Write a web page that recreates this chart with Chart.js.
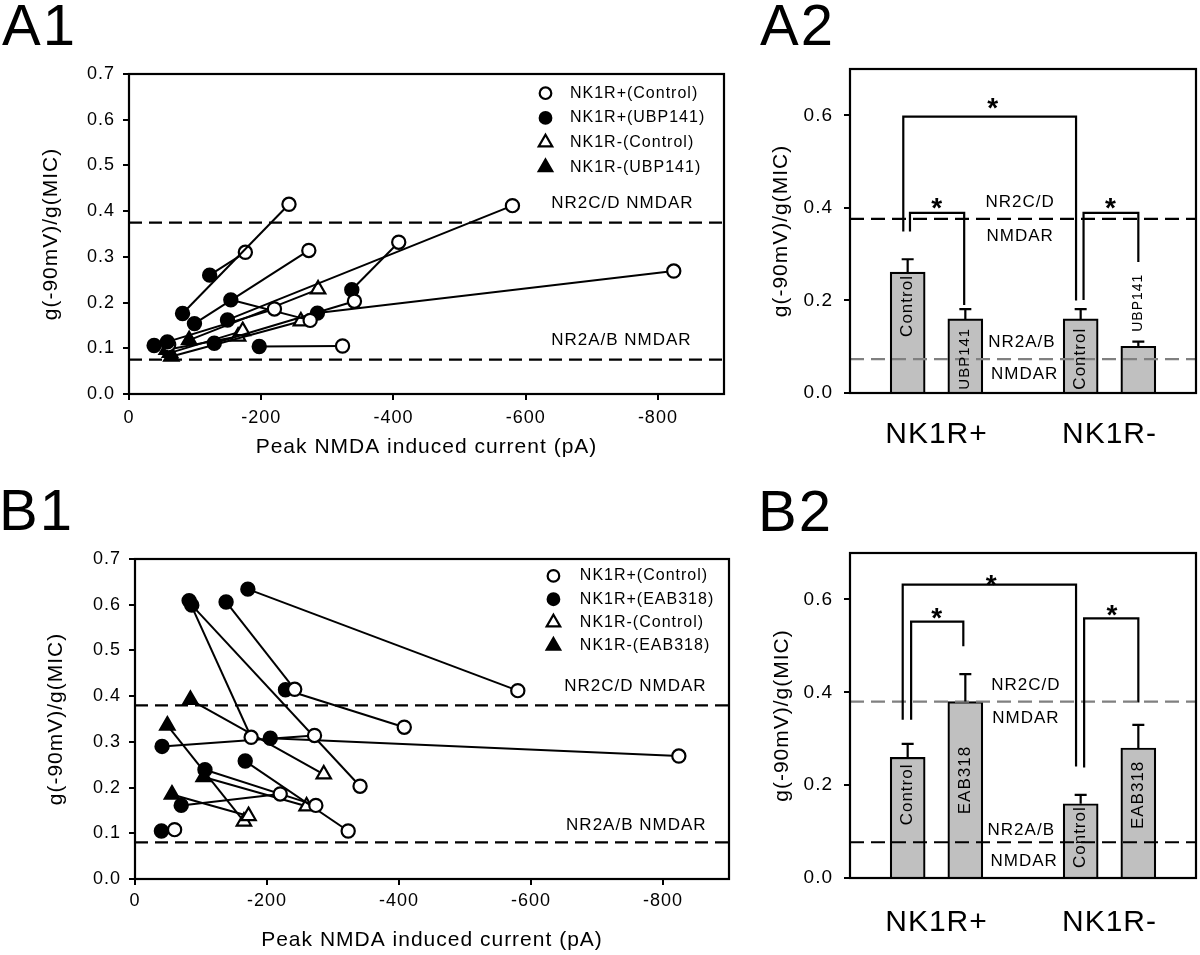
<!DOCTYPE html>
<html>
<head>
<meta charset="utf-8">
<title>NMDA ratio figure</title>
<script src="https://cdn.jsdelivr.net/npm/chart.js@4.4.1/dist/chart.umd.min.js"></script>
<style>
html,body{margin:0;padding:0;background:#fff;}
body{width:1200px;height:955px;position:relative;overflow:hidden;font-family:'Liberation Sans',Arial,sans-serif;}
canvas{position:absolute;}
.pl{position:absolute;font-size:58px;line-height:58px;color:#000;letter-spacing:2px;}
</style>
</head>
<body>
<canvas id="cA1" width="740" height="480" style="left:0;top:0"></canvas>
<canvas id="cA2" width="460" height="480" style="left:740px;top:0"></canvas>
<canvas id="cB1" width="740" height="475" style="left:0;top:480px"></canvas>
<canvas id="cB2" width="460" height="475" style="left:740px;top:480px"></canvas>
<div class="pl" style="left:2px;top:-4px">A1</div>
<div class="pl" style="left:760px;top:-4px">A2</div>
<div class="pl" style="left:-1px;top:481px">B1</div>
<div class="pl" style="left:758px;top:482px">B2</div>
<script>
// ---------------- DATA ----------------
// Peak NMDA induced current (pA) and g(-90mV)/g(MIC) per cell (control cells shared by A1/B1)
const ctrlPlusCurrent  = [-242, -176, -272, -220, -274, -341, -323, -408, -580, -824, -60];
const ctrlPlusRatio    = [0.415, 0.310, 0.314, 0.186, 0.161, 0.203, 0.105, 0.332, 0.412, 0.269, 0.108];
const ctrlMinusCurrent = [-286, -260, -172, -165];
const ctrlMinusRatio   = [0.229, 0.159, 0.138, 0.126];
// A1: UBP141
const ubpPlusCurrent  = [-81, -122, -99, -58, -154, -129, -197, -337, -149, -285, -38];
const ubpPlusRatio    = [0.176, 0.260, 0.154, 0.114, 0.206, 0.111, 0.104, 0.228, 0.162, 0.177, 0.106];
const ubpMinusCurrent = [-91, -64, -62, -57];
const ubpMinusRatio   = [0.118, 0.082, 0.090, 0.097];
// B1: EAB318
const eabPlusCurrent  = [-138, -82, -41, -70, -106, -86, -167, -228, -171, -205, -40];
const eabPlusRatio    = [0.606, 0.609, 0.290, 0.161, 0.239, 0.599, 0.258, 0.414, 0.634, 0.308, 0.105];
const eabMinusCurrent = [-84, -104, -56, -49];
const eabMinusRatio   = [0.392, 0.223, 0.185, 0.336];
// NMDAR reference levels [NR2C/D, NR2A/B]
const levelsA1 = [0.375, 0.075];
const levelsB1 = [0.38, 0.08];
const levelsA2 = [0.376, 0.073];
const levelsB2 = [0.38, 0.077];
// tick labels
const currentTicks = [0, -200, -400, -600, -800];
const ratioTicks   = [0, 0.1, 0.2, 0.3, 0.4, 0.5, 0.6, 0.7];
const barRatioTicks = [0, 0.2, 0.4, 0.6];
// bar panels
const barGroups = ['NK1R+', 'NK1R-'];
const condA2  = ['Control', 'UBP141', 'Control', 'UBP141'];
const meanA2  = [0.261, 0.160, 0.160, 0.101];
const semA2   = [0.028, 0.021, 0.021, 0.010];
const condB2  = ['Control', 'EAB318', 'Control', 'EAB318'];
const meanB2  = [0.260, 0.380, 0.160, 0.280];
const semB2   = [0.029, 0.059, 0.019, 0.050];

// ---------------- RENDERING ----------------
const FONT = "'Liberation Sans', Arial, sans-serif";
Chart.defaults.font.family = FONT;
Chart.defaults.color = '#000';
Chart.defaults.animation = false;
Chart.defaults.events = [];

function marker(ctx, style, fill, x, y, r) {
  ctx.beginPath();
  if (style === 'circle') ctx.arc(x, y, r, 0, Math.PI * 2);
  else { ctx.moveTo(x, y - r); ctx.lineTo(x + r * 0.866, y + r * 0.5); ctx.lineTo(x - r * 0.866, y + r * 0.5); ctx.closePath(); }
  ctx.fillStyle = fill; ctx.fill();
  ctx.lineWidth = 2.2; ctx.strokeStyle = '#000'; ctx.stroke();
}

const annotPlugin = {
  id: 'annot',
  beforeDraw(chart, args, o) { chart.ctx.letterSpacing = o.spacing || '0px'; },
  afterDatasetsDraw(chart, args, o) {
    const ctx = chart.ctx, xs = chart.scales.x, ys = chart.scales.y, a = chart.chartArea;
    const X = v => xs.getPixelForValue(v), Y = v => ys.getPixelForValue(v);
    ctx.save();
    ctx.strokeStyle = '#000'; ctx.fillStyle = '#000';
    if (o.errors) {
      const meta = chart.getDatasetMeta(0);
      ctx.lineWidth = 2.2;
      meta.data.forEach((bar, i) => {
        const y0 = Y(o.errors.means[i]), y1 = Y(o.errors.means[i] + o.errors.errs[i]);
        ctx.beginPath(); ctx.moveTo(bar.x, y0); ctx.lineTo(bar.x, y1);
        ctx.moveTo(bar.x - 6, y1); ctx.lineTo(bar.x + 6, y1); ctx.stroke();
      });
    }
    if (o.barLabels) {
      const meta = chart.getDatasetMeta(0);
      o.barLabels.text.forEach((t, i) => {
        ctx.save();
        ctx.translate(meta.data[i].x, Y(o.barLabels.y[i]));
        ctx.rotate(-Math.PI / 2);
        ctx.font = o.barLabels.size[i] + 'px ' + FONT;
        ctx.textAlign = 'center'; ctx.textBaseline = 'middle'; ctx.fillStyle = '#000';
        ctx.fillText(t, 0, 0);
        ctx.restore();
      });
    }
    (o.texts || []).forEach(t => {
      ctx.font = t.size + 'px ' + FONT; ctx.textAlign = t.align || 'center'; ctx.textBaseline = 'middle';
      ctx.fillStyle = '#000';
      ctx.fillText(t.text, X(t.x), Y(t.y));
    });
    (o.stars || []).forEach(s => {
      ctx.font = 'bold 28px ' + FONT; ctx.textAlign = 'center'; ctx.textBaseline = 'alphabetic';
      ctx.fillStyle = '#000';
      ctx.fillText('*', X(s.x), Y(s.y) + 16);
    });
    if (o.legend) {
      const L = o.legend;
      L.items.forEach((it, i) => {
        const y = Y(L.y[i]);
        marker(ctx, it.style, it.fill, X(L.markerX), y, it.style === 'circle' ? 5.8 : 7.8);
        ctx.font = L.size + 'px ' + FONT; ctx.textAlign = 'left'; ctx.textBaseline = 'middle'; ctx.fillStyle = '#000';
        ctx.fillText(it.label, X(L.textX), y);
      });
    }
    if (o.box) { ctx.lineWidth = 2.2; ctx.strokeStyle = '#000'; ctx.strokeRect(a.left, a.top, a.right - a.left, a.bottom - a.top); }
    ctx.restore();
  }
};
Chart.register(annotPlugin);

const axisGrid = { drawOnChartArea: false, drawTicks: true, tickLength: 6, color: '#000', lineWidth: 2 };
const axisBorder = { display: true, color: '#000', width: 2 };

function scatter(id, p) {
  const ds = [];
  p.levels.forEach(lv => ds.push({ data: [{ x: 0, y: lv }, { x: -900, y: lv }], borderColor: '#000', borderWidth: 2.2,
    borderDash: [13, 7], pointRadius: 0, order: 10 }));
  const add = (dI, dR, cI, cR, style) => dI.forEach((v, i) => ds.push({
    data: [{ x: dI[i], y: dR[i] }, { x: cI[i], y: cR[i] }], borderColor: '#000', borderWidth: 2,
    pointStyle: style, pointRadius: style === 'triangle' ? 8.3 : 6.6, pointBorderWidth: 2.2,
    pointBorderColor: '#000', pointBackgroundColor: ['#000', '#fff'], order: 0 }));
  add(p.plusI, p.plusR, ctrlPlusCurrent, ctrlPlusRatio, 'circle');
  add(p.minusI, p.minusR, ctrlMinusCurrent, ctrlMinusRatio, 'triangle');
  return new Chart(document.getElementById(id), {
    type: 'line',
    data: { datasets: ds },
    options: {
      responsive: false, animation: false, layout: { padding: p.pad },
      plugins: { legend: { display: false }, tooltip: { enabled: false },
        annot: { spacing: '1px', box: true, texts: p.texts, legend: p.legend } },
      scales: {
        x: { type: 'linear', min: -900, max: 0, reverse: true,
          afterBuildTicks: s => { s.ticks = currentTicks.map(v => ({ value: v })); },
          ticks: { callback: v => String(v), font: { size: 18 }, padding: p.xTickPad, maxRotation: 0, autoSkip: false },
          grid: axisGrid, border: axisBorder,
          title: { display: true, text: 'Peak NMDA induced current (pA)', font: { size: 21 }, padding: { top: 0, bottom: p.xTitlePad } },
          afterFit: s => { s.height = p.xH; } },
        y: { type: 'linear', min: 0, max: 0.7,
          afterBuildTicks: s => { s.ticks = ratioTicks.map(v => ({ value: v })); },
          ticks: { callback: v => v.toFixed(1), font: { size: 18 }, padding: 8 },
          grid: axisGrid, border: axisBorder,
          title: { display: true, text: 'g(-90mV)/g(MIC)', font: { size: 21 }, padding: { top: p.yTitlePad, bottom: 0 } },
          afterFit: s => { s.width = p.yW; } }
      }
    }
  });
}

function bars(id, p) {
  const slot = i => i + 1 + Math.floor(i / 2);
  const ds = [{ type: 'bar', data: p.means.map((m, i) => ({ x: slot(i), y: m })), backgroundColor: '#c0c0c0',
    borderColor: '#000', borderWidth: 2.2, borderSkipped: 'bottom', barThickness: 35, order: 5 }];
  p.levels.forEach((lv, k) => ds.push({ type: 'line', data: [{ x: 0, y: lv }, { x: 6, y: lv }], borderColor: p.levelColors[k],
    borderWidth: 2.2, borderDash: [14, 7], pointRadius: 0, order: 3 }));
  const stars = [];
  p.brackets.forEach(b => {
    const x1 = slot(b.from) + b.dx[0], x2 = slot(b.to) + b.dx[1];
    ds.push({ type: 'line', data: [{ x: x1, y: b.feet[0] }, { x: x1, y: b.top }, { x: x2, y: b.top }, { x: x2, y: b.feet[1] }],
      borderColor: '#000', borderWidth: 2.2, pointRadius: 0, order: 1 });
    stars.push({ x: (x1 + x2) / 2 + (b.sdx || 0), y: b.top + b.sdy });
  });
  const groupPos = barGroups.map((g, k) => (slot(2 * k) + slot(2 * k + 1)) / 2);
  return new Chart(document.getElementById(id), {
    type: 'bar',
    data: { datasets: ds },
    options: {
      responsive: false, animation: false, layout: { padding: p.pad },
      plugins: { legend: { display: false }, tooltip: { enabled: false },
        annot: { spacing: '1px', box: true, errors: { means: p.means, errs: p.errs },
          barLabels: { text: p.conditions, y: p.labelY, size: p.labelSize }, texts: p.texts, stars: stars } },
      scales: {
        x: { type: 'linear', min: 0, max: 6, offset: false, grid: { display: false, offset: false }, border: axisBorder,
          afterBuildTicks: s => { s.ticks = groupPos.map(v => ({ value: v })); },
          ticks: { callback: (v, i) => barGroups[i], font: { size: 30 }, padding: p.xTickPad, maxRotation: 0, autoSkip: false },
          afterFit: s => { s.height = p.xH; } },
        y: { type: 'linear', min: 0, max: 0.7,
          afterBuildTicks: s => { s.ticks = barRatioTicks.map(v => ({ value: v })); },
          ticks: { callback: v => v.toFixed(1), font: { size: 19 }, padding: 11 },
          grid: axisGrid, border: axisBorder,
          title: { display: true, text: 'g(-90mV)/g(MIC)', font: { size: 21 }, padding: { top: p.yTitlePad, bottom: 0 } },
          afterFit: s => { s.width = 110; } }
      }
    }
  });
}

const legendItems = drug => [
  { style: 'circle', fill: '#fff', label: 'NK1R+(Control)' },
  { style: 'circle', fill: '#000', label: 'NK1R+(' + drug + ')' },
  { style: 'triangle', fill: '#fff', label: 'NK1R-(Control)' },
  { style: 'triangle', fill: '#000', label: 'NK1R-(' + drug + ')' }
];

scatter('cA1', {
  plusI: ubpPlusCurrent, plusR: ubpPlusRatio, minusI: ubpMinusCurrent, minusR: ubpMinusRatio, levels: levelsA1,
  pad: { left: 0, top: 74, right: 16, bottom: 0 }, yW: 129, xH: 86, yTitlePad: 39, xTitlePad: 20, xTickPad: 7,
  texts: [{ x: -854, y: 0.417, text: 'NR2C/D NMDAR', size: 17, align: 'right' },
          { x: -851, y: 0.118, text: 'NR2A/B NMDAR', size: 17, align: 'right' }],
  legend: { markerX: -630, textX: -667, y: [0.658, 0.604, 0.550, 0.496], size: 16, items: legendItems('UBP141') }
});
scatter('cB1', {
  plusI: eabPlusCurrent, plusR: eabPlusRatio, minusI: eabMinusCurrent, minusR: eabMinusRatio, levels: levelsB1,
  pad: { left: 0, top: 79, right: 11, bottom: 0 }, yW: 135, xH: 76, yTitlePad: 44, xTitlePad: 2, xTickPad: 5,
  texts: [{ x: -866, y: 0.421, text: 'NR2C/D NMDAR', size: 17, align: 'right' },
          { x: -866, y: 0.118, text: 'NR2A/B NMDAR', size: 17, align: 'right' }],
  legend: { markerX: -634, textX: -674, y: [0.663, 0.612, 0.561, 0.510], size: 16, items: legendItems('EAB318') }
});
bars('cA2', {
  means: meanA2, errs: semA2, conditions: condA2, labelY: [0.188, 0.074, 0.074, 0.195], labelSize: [17, 15, 17, 14],
  levels: levelsA2, levelColors: ['#000', '#808080'],
  pad: { left: 0, top: 69, right: 4, bottom: 0 }, xH: 87, yTitlePad: 29, xTickPad: 16,
  brackets: [
    { from: 0, to: 2, dx: [-0.076, -0.08], top: 0.597, feet: [0.349, 0.200], sdy: 0.034, sdx: 0.06 },
    { from: 0, to: 1, dx: [0.04, -0.02], top: 0.389, feet: [0.349, 0.190], sdy: 0.025 },
    { from: 2, to: 3, dx: [0.05, 0.0], top: 0.389, feet: [0.201, 0.283], sdy: 0.025 }
  ],
  texts: [{ x: 2.95, y: 0.412, text: 'NR2C/D', size: 17 }, { x: 2.95, y: 0.339, text: 'NMDAR', size: 17 },
          { x: 2.98, y: 0.109, text: 'NR2A/B', size: 17 }, { x: 3.03, y: 0.040, text: 'NMDAR', size: 17 }]
});
bars('cB2', {
  means: meanB2, errs: semB2, conditions: condB2, labelY: [0.180, 0.211, 0.088, 0.179], labelSize: [17, 17, 17, 17],
  levels: levelsB2, levelColors: ['#808080', '#000'],
  pad: { left: 0, top: 73, right: 4, bottom: 0 }, xH: 77, yTitlePad: 30, xTickPad: 19,
  brackets: [
    { from: 0, to: 2, dx: [-0.086, -0.08], top: 0.632, feet: [0.341, 0.240], sdy: 0.015, sdx: 0.04 },
    { from: 0, to: 1, dx: [0.06, -0.035], top: 0.552, feet: [0.341, 0.499], sdy: 0.023 },
    { from: 2, to: 3, dx: [0.06, 0.0], top: 0.559, feet: [0.238, 0.378], sdy: 0.023, sdx: 0.02 }
  ],
  texts: [{ x: 3.05, y: 0.416, text: 'NR2C/D', size: 17 }, { x: 3.05, y: 0.343, text: 'NMDAR', size: 17 },
          { x: 2.97, y: 0.103, text: 'NR2A/B', size: 17 }, { x: 3.02, y: 0.035, text: 'NMDAR', size: 17 }]
});
</script>
</body>
</html>
